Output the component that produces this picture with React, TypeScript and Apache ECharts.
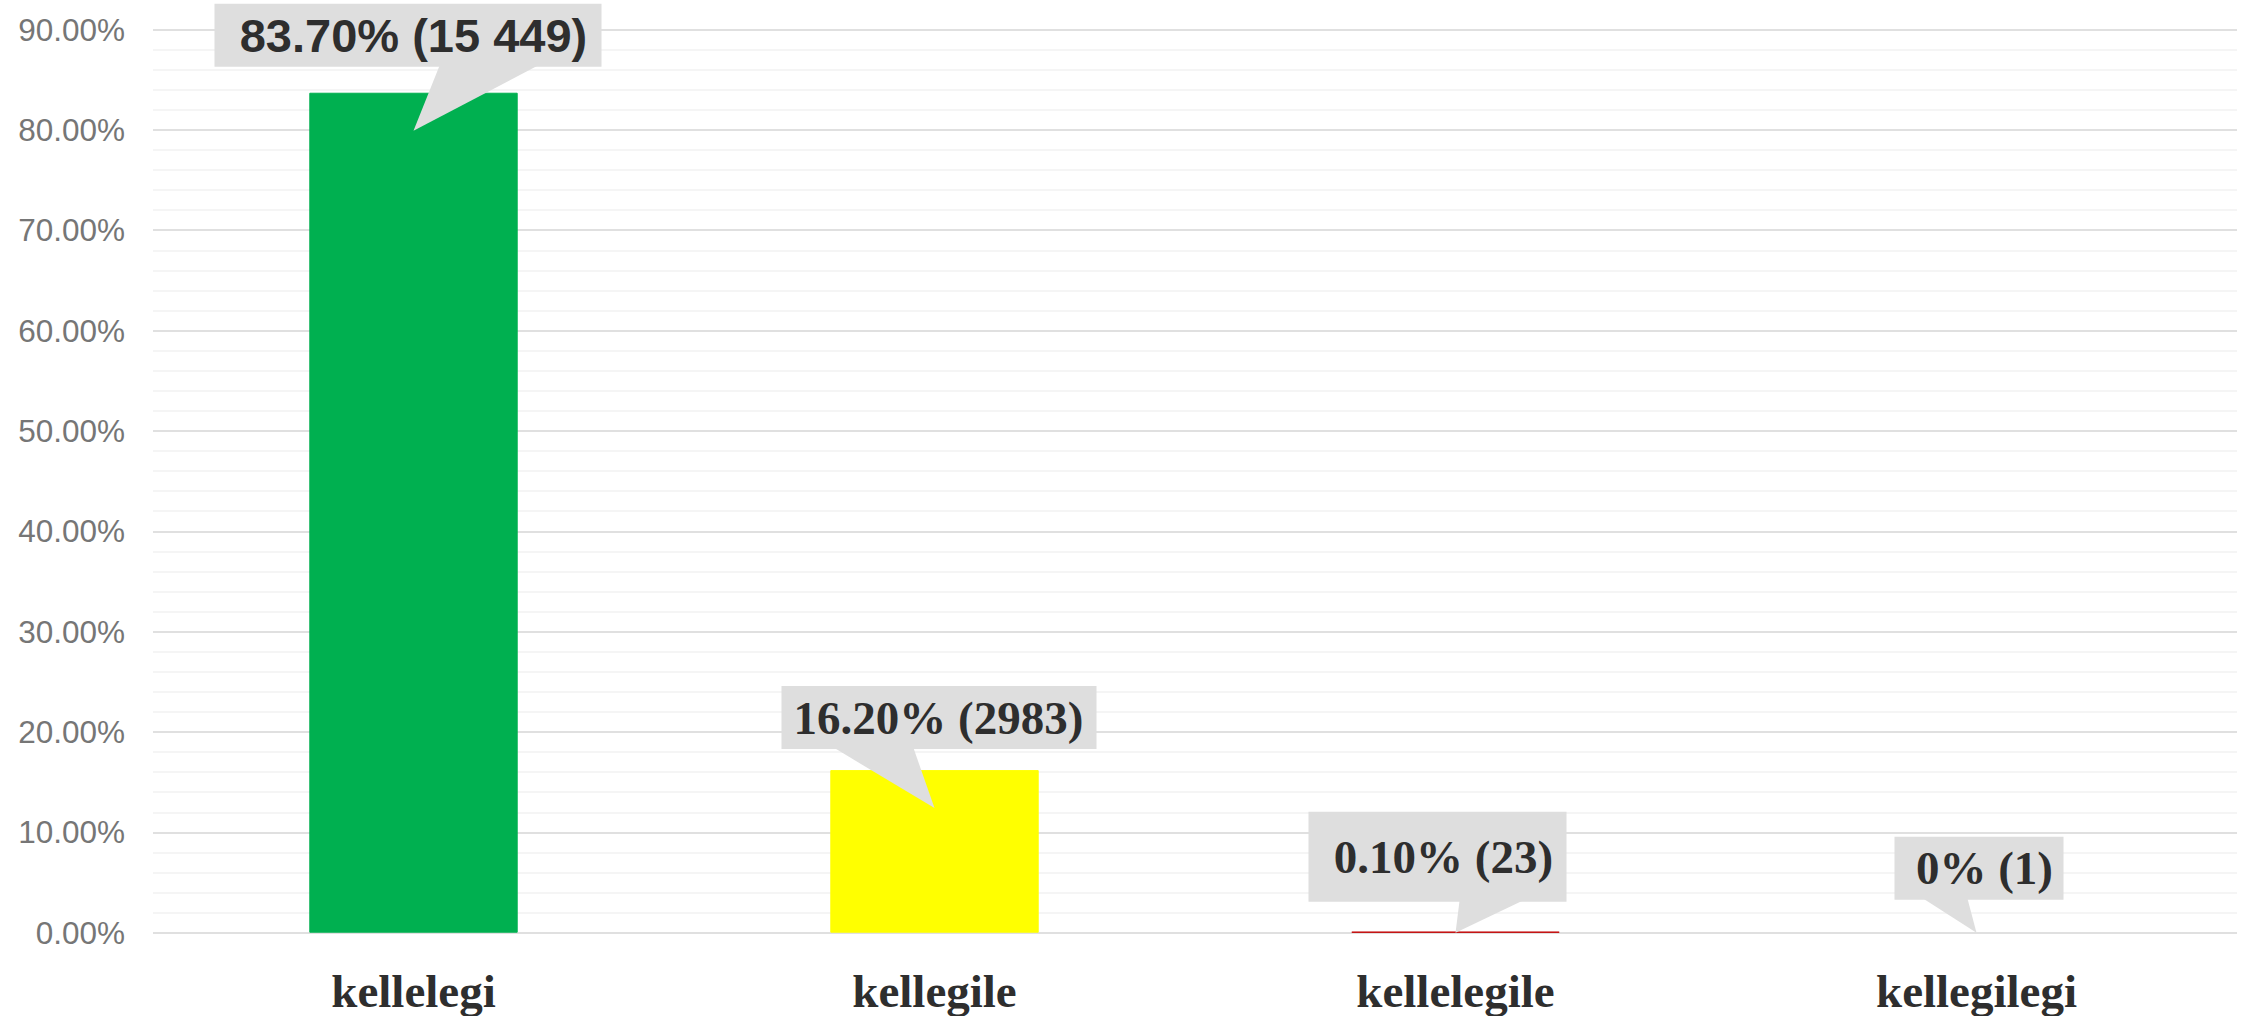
import React, { useEffect, useRef } from "react";
import * as echarts from "echarts";

const categories = ["kellelegi", "kellegile", "kellelegile", "kellegilegi"];
const percentValues = [83.7, 16.2, 0.1, 0];
const countValues = [15449, 2983, 23, 1];
const barColors = ["#00B050", "#FFFF00", "#C00000", "#7030A0"];
const yTickMax = 90;
const yTickStep = 10;

// callout layout (relative to pointer tip), style only
const calloutLayout = [
  { l: -199, r: 188, t: -127, b: -64, bl: 26, br: 124, tx: 0, font: "'Liberation Sans', Arial, sans-serif" },
  { l: -153, r: 162, t: -122, b: -59, bl: -100, br: -21, tx: 4, font: "'Liberation Serif', 'Times New Roman', serif" },
  { l: -147, r: 111, t: -121, b: -31, bl: 4, br: 67, tx: -12, font: "'Liberation Serif', 'Times New Roman', serif" },
  { l: -82, r: 87, t: -96, b: -33, bl: -53, br: -9, tx: 8, font: "'Liberation Serif', 'Times New Roman', serif" },
];

function fmtCount(n: number): string {
  const s = String(n);
  if (n < 10000) return s;
  return s.replace(/\B(?=(\d{3})+(?!\d))/g, " ");
}
function fmtPct(v: number): string {
  return v === 0 ? "0%" : v.toFixed(2) + "%";
}

export default function App() {
  const ref = useRef<HTMLDivElement>(null);
  useEffect(() => {
    if (!ref.current) return;
    const chart = echarts.init(ref.current, null, { renderer: "svg" });
    const labels = percentValues.map((v, i) => fmtPct(v) + " (" + fmtCount(countValues[i]) + ")");
    chart.setOption({
      animation: false,
      backgroundColor: "#ffffff",
      grid: { left: 153, right: 10, top: 29.5, bottom: 83.3, containLabel: false },
      xAxis: {
        type: "category",
        data: categories,
        axisLine: { show: false },
        axisTick: { show: false },
        axisLabel: {
          margin: 35,
          fontFamily: "'Liberation Serif', 'Times New Roman', serif",
          fontWeight: "bold",
          fontSize: 47,
          color: "#2e2e2e",
        },
      },
      yAxis: {
        type: "value",
        min: 0,
        max: yTickMax,
        interval: yTickStep,
        axisLine: { show: false },
        axisTick: { show: false },
        axisLabel: {
          margin: 28,
          fontFamily: "'Liberation Sans', Arial, sans-serif",
          fontSize: 31.5,
          color: "#767676",
          formatter: (v: number) => v.toFixed(2) + "%",
        },
        splitLine: { show: true, lineStyle: { color: "#e0e0e0", width: 2 } },
        minorTick: { show: false, splitNumber: 5 },
        minorSplitLine: { show: true, lineStyle: { color: "#f2f2f2", width: 1.5 } },
      },
      series: [
        {
          type: "bar",
          barWidth: "40%",
          data: percentValues.map((v, i) => ({
            value: v,
            itemStyle: { color: barColors[i], borderColor: barColors[i], borderWidth: v > 0 ? 1 : 0 },
          })),
          z: 2,
        },
        {
          type: "custom",
          z: 5,
          clip: false,
          data: percentValues.map((v, i) => [i, v]),
          renderItem: (params: any, api: any) => {
            const i = params.dataIndex;
            const top = api.coord([api.value(0), api.value(1)]);
            const base = api.coord([api.value(0), 0]);
            const tipX = top[0];
            const tipY = Math.min(top[1] + 38, base[1]);
            const c = calloutLayout[i];
            const x0 = tipX + c.l;
            const x1 = tipX + c.r;
            const y0 = tipY + c.t;
            const y1 = tipY + c.b;
            return {
              type: "group",
              children: [
                {
                  type: "rect",
                  shape: { x: x0, y: y0, width: x1 - x0, height: y1 - y0 },
                  style: { fill: "#dedede" },
                },
                {
                  type: "polygon",
                  shape: {
                    points: [
                      [tipX + c.bl, y1 - 1],
                      [tipX + c.br, y1 - 1],
                      [tipX, tipY],
                    ],
                  },
                  style: { fill: "#dedede" },
                },
                {
                  type: "text",
                  x: tipX + c.tx,
                  y: (y0 + y1) / 2,
                  style: {
                    text: labels[i],
                    fill: "#2e2e2e",
                    fontFamily: c.font,
                    fontWeight: "bold",
                    fontSize: 47,
                    align: "center",
                    verticalAlign: "middle",
                  },
                },
              ],
            };
          },
        },
      ],
    });
    return () => chart.dispose();
  }, []);
  return (
    <div
      ref={ref}
      style={{ position: "fixed", left: 0, top: 0, width: 2247, height: 1016, background: "#fff" }}
    />
  );
}
